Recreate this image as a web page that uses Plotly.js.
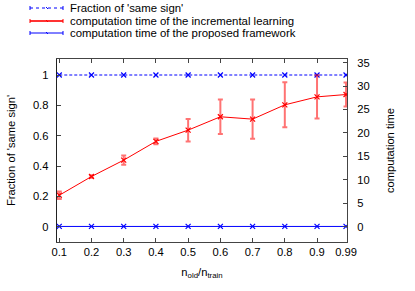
<!DOCTYPE html>
<html>
<head>
<meta charset="utf-8">
<script src="https://cdn.plot.ly/plotly-3.0.1.min.js"></script>
<style>html,body{margin:0;padding:0;background:#fff;}#chart{width:415px;height:291px;}</style>
</head>
<body>
<div id="chart"></div>
<script>
// ---- data ----
const xVals = [0.1, 0.2, 0.3, 0.4, 0.5, 0.6, 0.7, 0.8, 0.9, 0.99];
const xTickText = ['0.1', '0.2', '0.3', '0.4', '0.5', '0.6', '0.7', '0.8', '0.9', '0.99'];
const fractionSameSign = [1, 1, 1, 1, 1, 1, 1, 1, 1, 1];
const timeIncremental = [6.7, 10.7, 14.2, 18.2, 20.6, 23.45, 22.95, 26.0, 27.7, 28.2];
const timeIncrementalErr = [0.8, 0.25, 1.0, 0.6, 2.4, 3.7, 4.2, 4.8, 4.6, 2.55];
const timeProposed = [0.05, 0.05, 0.05, 0.05, 0.05, 0.05, 0.05, 0.05, 0.05, 0.05];
const seriesNames = ["Fraction of 'same sign'", 'computation time of the incremental learning', 'computation time of the proposed framework'];
const seriesColors = ['#0000ff', '#ff0000', '#0000ff'];

// ---- layout geometry (pixels) ----
const W = 415, H = 291;
const L = 57, R = 347, T = 59, B = 242;
const px = x => (x - L) / (R - L);
const py = y => (B - y) / (B - T);

const font = {family: 'Liberation Sans, Arial, sans-serif', size: 11.2, color: '#000'};
const legFont = {family: 'Liberation Sans, Arial, sans-serif', size: 11.4, color: '#000'};
const markerX = c => ({symbol: 'x-thin', size: 5, color: c, line: {color: c, width: 1.2}});

const traces = [
  {x: xVals, y: fractionSameSign, name: seriesNames[0], type: 'scatter', mode: 'lines+markers',
   line: {color: seriesColors[0], width: 1, dash: '3px,2px'}, marker: markerX(seriesColors[0]), yaxis: 'y'},
  {x: xVals, y: timeIncremental, name: seriesNames[1], type: 'scatter', mode: 'lines+markers',
   line: {color: seriesColors[1], width: 1}, marker: markerX(seriesColors[1]), yaxis: 'y2',
   error_y: {type: 'data', array: timeIncrementalErr, visible: true, color: 'rgba(255,0,0,0.55)', thickness: 2, width: 2.5}},
  {x: xVals, y: timeProposed, name: seriesNames[2], type: 'scatter', mode: 'lines+markers',
   line: {color: seriesColors[2], width: 1}, marker: markerX(seriesColors[2]), yaxis: 'y2'}
];

// manual legend (gnuplot style)
const legRows = [8, 21, 33];
const shapes = [];
const annotations = [];
const legStyles = [
  {color: '#0000ff', dash: 'dot'},
  {color: 'rgba(255,0,0,0.6)', dash: 'solid', w: 2},
  {color: '#0000ff', dash: 'solid'}
];
legRows.forEach((ry, i) => {
  const st = legStyles[i];
  shapes.push({type: 'line', xref: 'paper', yref: 'paper', x0: px(30), x1: px(63), y0: py(ry), y1: py(ry),
    line: {color: st.color, width: st.w || 1, dash: st.dash}});
  if (i === 1) shapes.push({type: 'line', xref: 'paper', yref: 'paper', x0: px(30), x1: px(63), y0: py(ry), y1: py(ry),
    line: {color: '#ff0000', width: 1}});
  [30, 63].forEach(cx => shapes.push({type: 'line', xref: 'paper', yref: 'paper', x0: px(cx), x1: px(cx),
    y0: py(ry - 2), y1: py(ry + 2), line: {color: seriesColors[i], width: 1}}));
  shapes.push({type: 'line', xref: 'paper', yref: 'paper', x0: px(46), x1: px(48),
    y0: py(ry - 1), y1: py(ry + 1), line: {color: seriesColors[i], width: 1}});
  annotations.push({xref: 'paper', yref: 'paper', x: px(68), y: py(ry), xanchor: 'left', yanchor: 'middle',
    text: seriesNames[i], showarrow: false, font: legFont});
});

const layout = {
  width: W, height: H,
  margin: {l: L, r: W - R, t: T, b: H - B, pad: 0},
  paper_bgcolor: '#fff', plot_bgcolor: '#fff',
  font: font,
  showlegend: false,
  xaxis: {
    range: [0.093, 0.993], tickvals: xVals, ticktext: xTickText,
    ticks: 'inside', ticklen: 4, tickcolor: '#444', showline: true, linecolor: '#444', linewidth: 1,
    mirror: 'ticks', showgrid: false, zeroline: false, tickfont: font,
    title: {text: 'n<sub>old</sub>/n<sub>train</sub>', font: font, standoff: 10}
  },
  yaxis: {
    range: [-0.1008, 1.1055], tickvals: [0, 0.2, 0.4, 0.6, 0.8, 1], ticktext: ['0', '0.2', '0.4', '0.6', '0.8', '1'],
    ticks: 'inside', ticklen: 4, tickcolor: '#444', showline: true, linecolor: '#222', linewidth: 1.3,
    showgrid: false, zeroline: false, tickfont: font, ticklabelstandoff: 5,
    title: {text: "Fraction of 'same sign'", font: font, standoff: 15}
  },
  yaxis2: {
    overlaying: 'y', side: 'right',
    range: [-3.27, 35.78], tickvals: [0, 5, 10, 15, 20, 25, 30, 35],
    ticks: 'inside', ticklen: 4, tickcolor: '#444', showline: true, linecolor: '#444', linewidth: 1,
    showgrid: false, zeroline: false, tickfont: font, ticklabelstandoff: 7,
    title: {text: 'computation time', font: font, standoff: 17}
  },
  shapes: shapes,
  annotations: annotations
};

Plotly.newPlot('chart', traces, layout, {displayModeBar: false, staticPlot: true});
</script>
</body>
</html>
